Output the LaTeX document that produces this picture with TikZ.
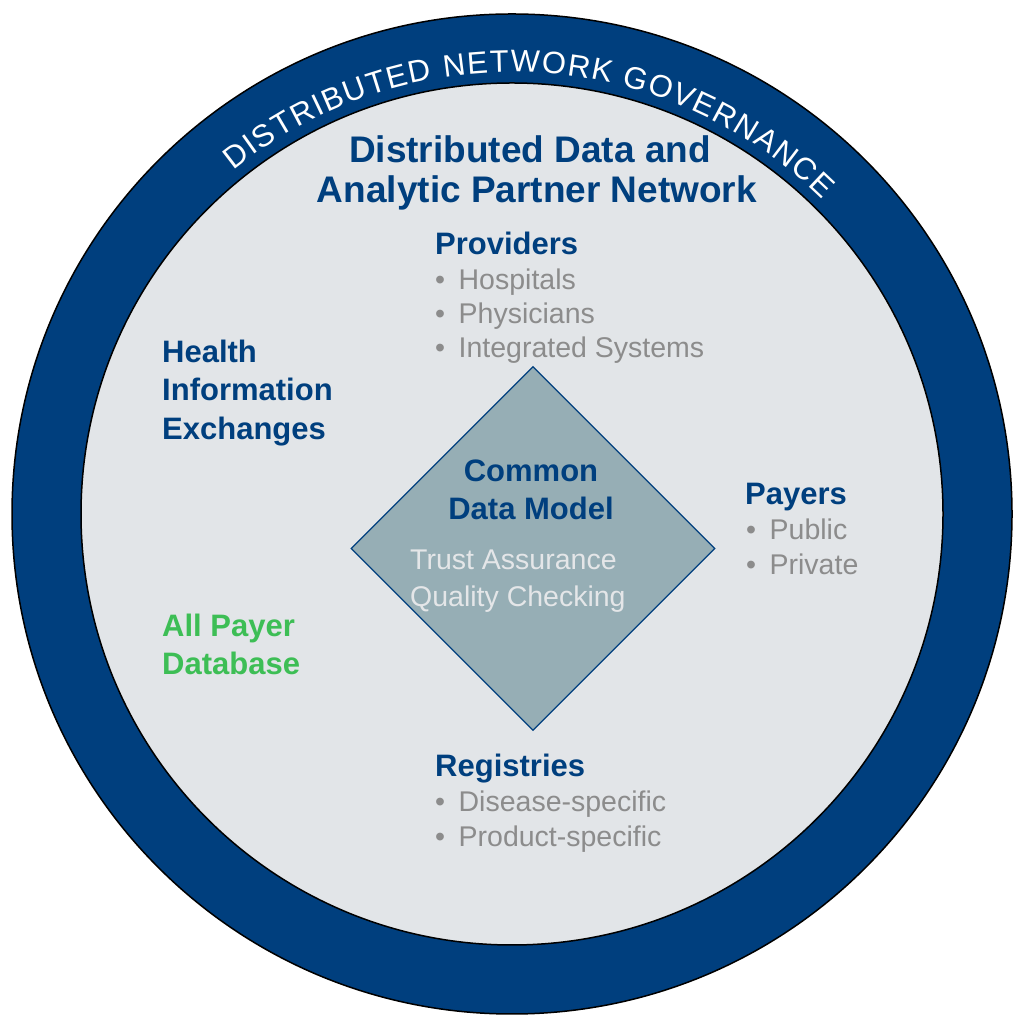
\documentclass[tikz,border=0pt]{standalone}
\usepackage{fontspec}
\setmainfont{Liberation Sans}
\usetikzlibrary{shapes.geometric,decorations.text}

\definecolor{navy}{HTML}{003F7E}
\definecolor{innergrey}{HTML}{E2E5E8}
\definecolor{cdmfill}{HTML}{96AEB5}
\definecolor{itemgrey}{HTML}{8C8C8C}
\definecolor{cdmtext}{HTML}{E4E6E8}
\definecolor{apdgreen}{HTML}{3DBE55}

\newcommand\ringfont{\fontsize{31}{31}\selectfont}
\newcommand\bul{\textbullet\hspace{13.5pt}}

\tikzset{
  title/.style={font=\bfseries\fontsize{37}{44}\selectfont,text=navy,inner sep=0pt,anchor=base},
  heading/.style={font=\bfseries\fontsize{31}{38}\selectfont,text=navy,inner sep=0pt,anchor=base west},
  listitem/.style={font=\fontsize{28.5}{34}\selectfont,text=itemgrey,inner sep=0pt,anchor=base west},
}

\begin{document}
\begin{tikzpicture}[x=1pt,y=1pt]
        \useasboundingbox (0,0) rectangle (1013,1016);
        %% Governance ring and network disc
        \node[circle,draw=black,line width=1.5pt,fill=navy,minimum size=1000pt,inner sep=0pt] (ring) at (512,502) {};
        \node[circle,draw=black,line width=1.5pt,fill=innergrey,minimum size=862pt,inner sep=0pt] (network) at (512,502) {};
        %% Ring label
        \path[decorate,decoration={text along path,text align={fit to path},text color=white,
                text={|\ringfont|DISTRIBUTED NETWORK GOVERNANCE}}]
            (ring.center) ++(129:442) arc[start angle=129,end angle=45.4,radius=442];
        %% Title
        \node[title] (title1) at (530,853) {Distributed Data and};
        \node[title] (title2) at (537,813) {Analytic Partner Network};
        %% Common data model
        \node[diamond,draw=navy,line width=1.2pt,fill=cdmfill,minimum width=364pt,minimum height=364pt,inner sep=0pt] (cdm) at (533,467.5) {};
        \node[heading,anchor=base] (cdm1) at (531,534) {Common};
        \node[heading,anchor=base] (cdm2) at (531,496) {Data Model};
        \node[listitem,text=cdmtext] (trust) at (410,446) {Trust Assurance};
        \node[listitem,text=cdmtext] (quality) at (410,409) {Quality Checking};
        %% Providers
        \node[heading] (prov) at (435,761) {Providers};
        \node[listitem] (hosp) at (435,726) {\bul Hospitals};
        \node[listitem] (phys) at (435,692) {\bul Physicians};
        \node[listitem] (integ) at (435,658) {\bul Integrated Systems};
        %% Health information exchanges
        \node[heading] (hie1) at (162,653) {Health};
        \node[heading] (hie2) at (162,615) {Information};
        \node[heading] (hie3) at (162,576) {Exchanges};
        %% All payer database
        \node[heading,text=apdgreen] (apd1) at (162,379) {All Payer};
        \node[heading,text=apdgreen] (apd2) at (162,341) {Database};
        %% Payers
        \node[heading] (payers) at (745,511) {Payers};
        \node[listitem] (public) at (746,476) {\bul Public};
        \node[listitem] (private) at (746,441) {\bul Private};
        %% Registries
        \node[heading] (reg) at (435,239) {Registries};
        \node[listitem] (disease) at (435,204) {\bul Disease-specific};
        \node[listitem] (product) at (435,169) {\bul Product-specific};
    \end{tikzpicture}
\end{document}
